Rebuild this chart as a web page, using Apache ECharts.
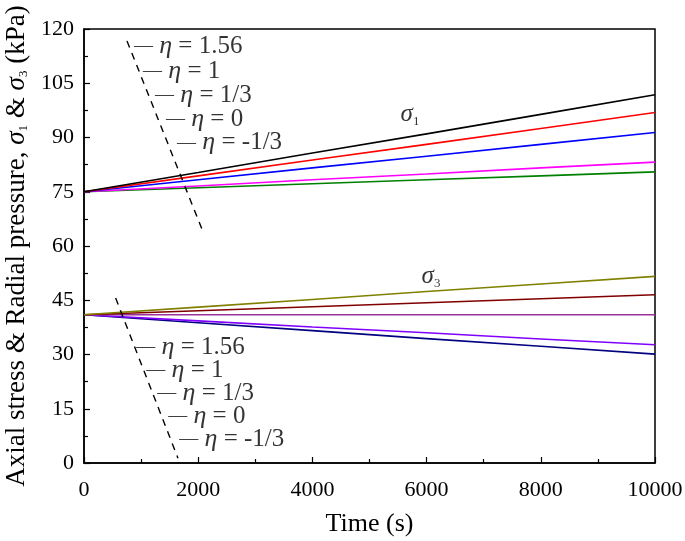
<!DOCTYPE html>
<html><head><meta charset="utf-8">
<script src="https://cdn.jsdelivr.net/npm/echarts@6/dist/echarts.min.js"></script>
<style>html,body{margin:0;padding:0;background:#fff}#c{width:685px;height:541px}</style>
</head><body><div id="c"></div>
<script>
const times = [0, 2000, 4000, 6000, 8000, 10000];
// sigma1 series (eta = 1.56, 1, 1/3, 0, -1/3)
const s1_eta156 = [75, 80.3, 85.7, 91.0, 96.4, 101.8];
const s1_eta1   = [75, 79.4, 83.8, 88.1, 92.5, 96.9];
const s1_eta13  = [75, 78.3, 81.6, 84.8, 88.1, 91.4];
const s1_eta0   = [75, 76.6, 78.3, 79.9, 81.6, 83.2];
const s1_etam13 = [75, 76.1, 77.2, 78.3, 79.4, 80.5];
// sigma3 series
const s3_a = [41, 43.1, 45.2, 47.4, 49.5, 51.6];
const s3_b = [41, 42.1, 43.2, 44.3, 45.4, 46.5];
const s3_c = [41, 41, 41, 41, 41, 41];
const s3_d = [41, 39.3, 37.6, 36.0, 34.3, 32.7];
const s3_e = [41, 38.8, 36.6, 34.4, 32.3, 30.1];
// dashed guide lines [time, value]
const dashUpper = [[753, 116.7], [2067, 64.6]];
const dashLower = [[554, 45.6], [1646, 1.3]];
// annotation labels
const etaLabels = ['η = 1.56', 'η = 1', 'η = 1/3', 'η = 0', 'η = -1/3'];
const upperLabelPos = [[875, 115.3], [1035, 108.4], [1245, 101.7], [1435, 95.0], [1630, 88.6]];
const lowerLabelPos = [[915, 32.0], [1090, 25.7], [1283, 19.3], [1475, 13.0], [1668, 6.6]];
const sigmaLabelPos = [[5709, 96.3], [6077, 51.6]];
const xTicks = [0, 2000, 4000, 6000, 8000, 10000];
const yTicks = [0, 15, 30, 45, 60, 75, 90, 105, 120];

const FONT = '"Liberation Serif","DejaVu Serif",serif';
function mk(vals, color) {
  return { type: 'line', data: times.map((t, i) => [t, vals[i]]), symbol: 'none',
    lineStyle: { color: color, width: 1.6 }, silent: true, z: 3 };
}
function labelSeries(pos) {
  return { type: 'scatter', symbolSize: 0, silent: true, z: 5,
    data: pos.map((p, i) => ({ value: p, name: etaLabels[i] })),
    label: { show: true, position: 'right', distance: 0, fontFamily: FONT, fontSize: 25, color: '#000',
      formatter: p => '{d|—} {e|η}{t|' + p.name.slice(1) + '}',
      rich: { d: { fontFamily: FONT, fontSize: 19, color: '#000' },
              e: { fontFamily: FONT, fontSize: 26, fontStyle: 'italic', color: '#000' },
              t: { fontFamily: FONT, fontSize: 25, color: '#000' } } } };
}
const chart = echarts.init(document.getElementById('c'));
chart.setOption({
  animation: false,
  backgroundColor: '#fff',
  grid: { left: 84, right: 30, top: 29, bottom: 78, show: true, borderColor: '#000', borderWidth: 1.5,
    outerBoundsMode: 'none', containLabel: false },
  xAxis: { type: 'value', min: 0, max: 10000, interval: 2000,
    name: 'Time (s)', nameLocation: 'middle', nameGap: 48,
    nameTextStyle: { fontFamily: FONT, fontSize: 26, color: '#000' },
    axisLine: { lineStyle: { color: '#000', width: 1.5 } },
    axisTick: { inside: true, length: 6, lineStyle: { color: '#000', width: 1.2 } },
    minorTick: { show: true, splitNumber: 2, length: 4, lineStyle: { color: '#000', width: 1.2 } },
    splitLine: { show: false },
    axisLabel: { fontFamily: FONT, fontSize: 22, color: '#000', margin: 16, formatter: v => xTicks.includes(v) ? String(v) : '' } },
  yAxis: { type: 'value', min: 0, max: 120, interval: 15,
    name: 'Axial stress & Radial pressure, {i|σ}{s|1} & {i|σ}{s|3} (kPa)',
    nameLocation: 'middle', nameGap: 52, nameRotate: 90,
    nameTextStyle: { fontFamily: FONT, fontSize: 27, color: '#000',
      rich: { i: { fontFamily: FONT, fontSize: 27, fontStyle: 'italic', color: '#000' },
              s: { fontFamily: FONT, fontSize: 13, color: '#000', verticalAlign: 'bottom', padding: [12, 0, 0, 0] } } },
    axisLine: { show: true, lineStyle: { color: '#000', width: 1.5 } },
    axisTick: { show: true, inside: true, length: 6, lineStyle: { color: '#000', width: 1.2 } },
    minorTick: { show: true, splitNumber: 2, length: 4, lineStyle: { color: '#000', width: 1.2 } },
    splitLine: { show: false },
    axisLabel: { fontFamily: FONT, fontSize: 22, color: '#000', margin: 10, formatter: v => yTicks.includes(v) ? String(v) : '' } },
  series: [
    mk(s1_etam13, '#008000'), mk(s1_eta0, '#ff00ff'), mk(s1_eta13, '#0000ff'), mk(s1_eta1, '#ff0000'), mk(s1_eta156, '#000000'),
    mk(s3_e, '#000080'), mk(s3_d, '#8000ff'), mk(s3_c, '#993399'), mk(s3_b, '#800000'), mk(s3_a, '#808000'),
    { type: 'line', data: dashUpper, symbol: 'none', silent: true, lineStyle: { color: '#000', width: 1.4, type: [7, 6] } },
    { type: 'line', data: dashLower, symbol: 'none', silent: true, lineStyle: { color: '#000', width: 1.4, type: [7, 6] } },
    labelSeries(upperLabelPos), labelSeries(lowerLabelPos),
    { type: 'scatter', symbolSize: 0, silent: true, z: 5,
      data: sigmaLabelPos.map((p, i) => ({ value: p, name: String(i === 0 ? 1 : 3) })),
      label: { show: true, position: 'inside', formatter: p => '{i|σ}{s|' + p.name + '}',
        rich: { i: { fontFamily: FONT, fontSize: 25, fontStyle: 'italic', color: '#000' },
                s: { fontFamily: FONT, fontSize: 13, color: '#000', verticalAlign: 'bottom', padding: [14, 0, 0, 0] } } } }
  ]
});
</script></body></html>
